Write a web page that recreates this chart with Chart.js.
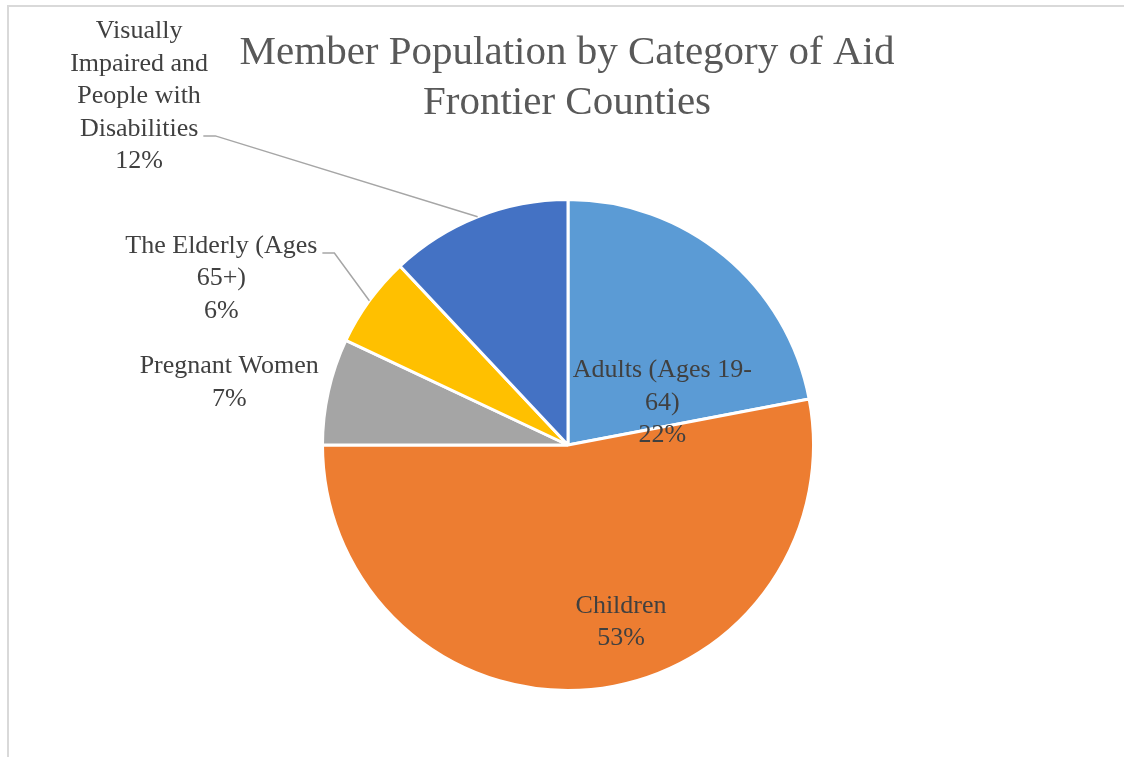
<!DOCTYPE html>
<html>
<head>
<meta charset="utf-8">
<script src="https://cdn.jsdelivr.net/npm/chart.js"></script>
<style>
  html, body { margin: 0; padding: 0; background: #fff; }
  #wrap { position: relative; width: 1124px; height: 757px; }
</style>
</head>
<body>
<div id="wrap"><canvas id="aidChart"></canvas></div>
<script>
// member share by category of aid, frontier counties
const categories = ['Adults (Ages 19-64)', 'Children', 'Pregnant Women', 'The Elderly (Ages 65+)', 'Visually Impaired and People with Disabilities'];
const shares = [22, 53, 7, 6, 12];
const sliceColors = ['#5B9BD5', '#ED7D31', '#A5A5A5', '#FFC000', '#4472C4'];

// how each label wraps, like the office chart does it
const labelLines = [
  ['Adults (Ages 19-', '64)'],
  ['Children'],
  ['Pregnant Women'],
  ['The Elderly (Ages', '65+)'],
  ['Visually', 'Impaired and', 'People with', 'Disabilities']
];
const titleLines = ['Member Population by Category of Aid', 'Frontier Counties'];

// label block centres, in units of the pie radius from its centre
const labelSpots = [[0.384, -0.171], [0.216, 0.722], [-1.38, -0.253], [-1.412, -0.678], [-1.747, -1.42]];
// which text line the leader line hangs off (null = no leader)
const leaderLine = [null, null, null, 0, 3];

const LABEL_FONT = '26px "Liberation Serif", serif';
const LINE_H = 32.5;

const decorations = {
  id: 'decorations',
  beforeDraw(chart) {
    const ctx = chart.ctx;
    ctx.save();
    ctx.strokeStyle = '#d9d9d9';
    ctx.lineWidth = 2;
    ctx.beginPath();
    ctx.moveTo(8, chart.height);
    ctx.lineTo(8, 6);
    ctx.lineTo(chart.width, 6);
    ctx.stroke();

    ctx.fillStyle = '#595959';
    ctx.font = '41px "Liberation Serif", serif';
    ctx.textAlign = 'center';
    ctx.textBaseline = 'middle';
    titleLines.forEach((t, i) => ctx.fillText(t, 567, 53 + i * 50));
    ctx.restore();
  },
  afterDatasetsDraw(chart) {
    const ctx = chart.ctx;
    const arcs = chart.getDatasetMeta(0).data;
    ctx.save();
    ctx.font = LABEL_FONT;
    ctx.textAlign = 'center';
    ctx.textBaseline = 'middle';
    arcs.forEach((arc, i) => {
      const { x, y, outerRadius, startAngle, endAngle } = arc.getProps(['x', 'y', 'outerRadius', 'startAngle', 'endAngle'], true);
      const lines = labelLines[i].concat([shares[i] + '%']);
      const cx = x + labelSpots[i][0] * outerRadius;
      const cy = y + labelSpots[i][1] * outerRadius;
      const top = cy - (lines.length - 1) * LINE_H / 2;

      if (leaderLine[i] !== null) {
        const k = leaderLine[i];
        const w = ctx.measureText(lines[k]).width;
        const ly = top + k * LINE_H + 7;
        const lx = cx + w / 2 + 5;
        const mid = (startAngle + endAngle) / 2;
        ctx.strokeStyle = '#a6a6a6';
        ctx.lineWidth = 1.5;
        ctx.beginPath();
        ctx.moveTo(lx, ly);
        ctx.lineTo(lx + 12, ly);
        ctx.lineTo(x + Math.cos(mid) * outerRadius, y + Math.sin(mid) * outerRadius);
        ctx.stroke();
      }

      ctx.fillStyle = '#404040';
      lines.forEach((t, j) => ctx.fillText(t, cx, top + j * LINE_H));
    });
    ctx.restore();
  }
};

new Chart(document.getElementById('aidChart'), {
  type: 'pie',
  data: {
    labels: categories,
    datasets: [{
      data: shares,
      backgroundColor: sliceColors,
      borderColor: '#ffffff',
      borderWidth: 3
    }]
  },
  options: {
    responsive: true,
    maintainAspectRatio: false,
    animation: false,
    layout: { padding: { left: 321, right: 309, top: 198, bottom: 65 } },
    plugins: {
      legend: { display: false },
      title: { display: false },
      tooltip: { enabled: false }
    }
  },
  plugins: [decorations]
});
</script>
</body>
</html>
